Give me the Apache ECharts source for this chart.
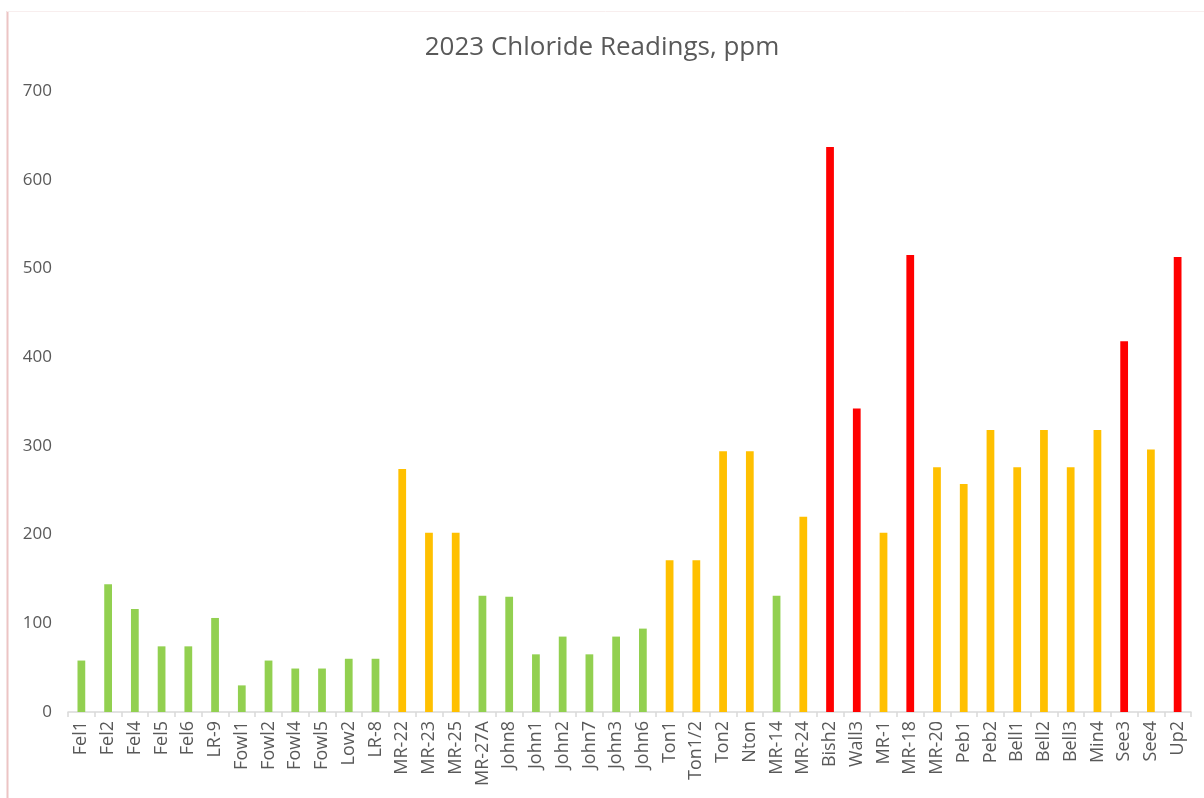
<!DOCTYPE html>
<html>
<head>
<meta charset="utf-8">
<script src="https://cdn.jsdelivr.net/npm/echarts@6/dist/echarts.min.js"></script>
<style>html,body{margin:0;padding:0;background:#fff;}#c{width:1204px;height:798px;}</style>
</head>
<body>
<div id="c"></div>
<script>
const categories = ["Fel1","Fel2","Fel4","Fel5","Fel6","LR-9","Fowl1","Fowl2","Fowl4","Fowl5","Low2","LR-8",
  "MR-22","MR-23","MR-25","MR-27A","John8","John1","John2","John7","John3","John6",
  "Ton1","Ton1/2","Ton2","Nton","MR-14","MR-24",
  "Bish2","Wall3","MR-1","MR-18","MR-20","Peb1","Peb2","Bell1","Bell2","Bell3","Min4","See3","See4","Up2"];
const values = [58,144,116,74,74,106,30,58,49,49,60,60,
  274,202,202,131,130,65,85,65,85,94,
  171,171,294,294,131,220,
  637,342,202,515,276,257,318,276,318,276,318,418,296,513];
// level per category: g = green, o = orange, r = red
const levels = ["g","g","g","g","g","g","g","g","g","g","g","g",
  "o","o","o","g","g","g","g","g","g","g",
  "o","o","o","o","g","o",
  "r","r","o","r","o","o","o","o","o","o","o","r","o","r"];
const levelColors = {g:"#92D050", o:"#FFC000", r:"#FF0000"};
const yTicks = {min:0, max:700, interval:100};

const chart = echarts.init(document.getElementById('c'));
chart.setOption({
  animation:false,
  backgroundColor:'#fff',
  title:{text:'2023 Chloride Readings, ppm', left:'center', top:30,
    textStyle:{fontFamily:'Open Sans', fontSize:26, fontWeight:'normal', color:'#595959'}},
  graphic:[
    {type:'line', shape:{x1:7.5,y1:11,x2:7.5,y2:798}, style:{stroke:'#ecc4c4', lineWidth:2}},
    {type:'line', shape:{x1:7,y1:11.5,x2:1204,y2:11.5}, style:{stroke:'#f8eeee', lineWidth:1}}
  ],
  grid:{left:68, right:13, top:91, bottom:86, containLabel:false},
  xAxis:{type:'category', data:categories, boundaryGap:true,
    axisLine:{lineStyle:{color:'#d9d9d9', width:1.5}},
    axisTick:{show:true, alignWithLabel:false, length:5, lineStyle:{color:'#d9d9d9', width:1.5}},
    axisLabel:{interval:0, rotate:90, color:'#595959', fontFamily:'Open Sans', fontSize:18, margin:9}},
  yAxis:{type:'value', min:yTicks.min, max:yTicks.max, interval:yTicks.interval,
    splitLine:{show:false}, axisLine:{show:false}, axisTick:{show:false},
    axisLabel:{color:'#595959', fontFamily:'Open Sans', fontSize:17, margin:16}},
  series:[{type:'bar', barWidth:'29%',
    data:values.map((v,i)=>({value:v, itemStyle:{color:levelColors[levels[i]]}}))}]
});
</script>
</body>
</html>
